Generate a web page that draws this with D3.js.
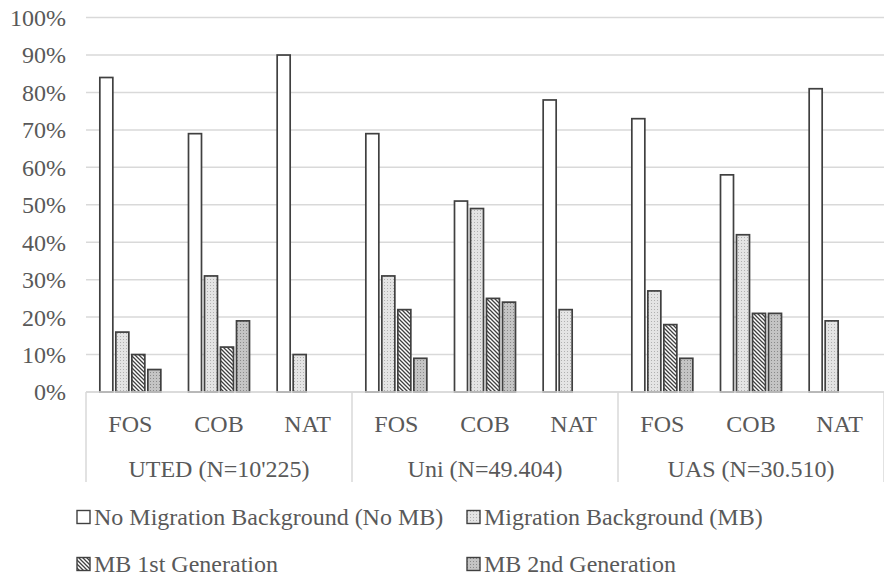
<!DOCTYPE html>
<html><head><meta charset="utf-8">
<script src="https://cdn.jsdelivr.net/npm/d3@7"></script>
<style>body{margin:0;background:#fff}</style>
</head><body><svg id="c" width="884" height="576"></svg>
<script>
const groups = ["UTED (N=10'225)", "Uni (N=49.404)", "UAS (N=30.510)"];
const categories = ["FOS", "COB", "NAT"];
const seriesNames = ["No Migration Background (No MB)", "Migration Background (MB)", "MB 1st Generation", "MB 2nd Generation"];
const noMB = [84, 69, 90, 69, 51, 78, 73, 58, 81];
const mb   = [16, 31, 10, 31, 49, 22, 27, 42, 19];
const mb1  = [10, 12, null, 22, 25, null, 18, 21, null];
const mb2  = [6, 19, null, 9, 24, null, 9, 21, null];
const yTicks = [0, 10, 20, 30, 40, 50, 60, 70, 80, 90, 100];

const series = [noMB, mb, mb1, mb2];
const fills = ["#ffffff", "url(#pLight)", "url(#pHatch)", "url(#pDark)"];
const textCol = "#595959", gridCol = "#d9d9d9", barStroke = "#404040";
const font = "'Liberation Serif','Times New Roman',serif";

const svg = d3.select("#c");
const defs = svg.append("defs");
let p = defs.append("pattern").attr("id", "pLight").attr("patternUnits", "userSpaceOnUse").attr("width", 3).attr("height", 3);
p.append("rect").attr("width", 3).attr("height", 3).attr("fill", "#e4e4e4");
p.append("rect").attr("x", 0).attr("y", 0).attr("width", 1).attr("height", 1).attr("fill", "#b0b0b0");
p = defs.append("pattern").attr("id", "pHatch").attr("patternUnits", "userSpaceOnUse").attr("width", 4).attr("height", 4);
p.append("rect").attr("width", 4).attr("height", 4).attr("fill", "#ffffff");
p.append("path").attr("d", "M-1,3 l2,2 M0,0 l4,4 M3,-1 l2,2").attr("stroke", "#404040").attr("stroke-width", 1.3);
p = defs.append("pattern").attr("id", "pDark").attr("patternUnits", "userSpaceOnUse").attr("width", 3).attr("height", 3);
p.append("rect").attr("width", 3).attr("height", 3).attr("fill", "#c4c4c4");
p.append("rect").attr("x", 0).attr("y", 0).attr("width", 1).attr("height", 1).attr("fill", "#8a8a8a");

const left = 86, right = 884, y0 = 392, y100 = 17.6;
const x = d3.scaleBand().domain(d3.range(9)).range([left, right]).padding(0);
const clusterW = 61;
const x1 = d3.scaleBand().domain(d3.range(4)).range([0, clusterW]).paddingInner(3 / 16).paddingOuter(0);
const y = d3.scaleLinear().domain([0, 100]).range([y0, y100]);

svg.append("g").selectAll("line").data(yTicks).join("line")
  .attr("x1", left).attr("x2", right)
  .attr("y1", d => y(d)).attr("y2", d => y(d))
  .attr("stroke", gridCol).attr("stroke-width", 1.5);

svg.append("g").selectAll("text").data(yTicks).join("text")
  .attr("x", 66).attr("y", d => y(d)).attr("dy", "0.35em")
  .attr("text-anchor", "end").attr("font-family", font).attr("font-size", 24)
  .attr("fill", textCol).text(d => d + "%");

const off = (x.bandwidth() - clusterW) / 2;
series.forEach((vals, s) => {
  svg.append("g").selectAll("rect")
    .data(vals.map((v, i) => ({ v, i })).filter(d => d.v != null))
    .join("rect")
    .attr("x", d => x(d.i) + off + x1(s))
    .attr("width", x1.bandwidth())
    .attr("y", d => y(d.v))
    .attr("height", d => y0 - y(d.v))
    .attr("fill", fills[s]).attr("stroke", barStroke).attr("stroke-width", 1.7);
});

svg.append("line").attr("x1", left).attr("x2", right).attr("y1", y0).attr("y2", y0)
  .attr("stroke", gridCol).attr("stroke-width", 1.5);
const seps = [0, 3, 6].map(i => x(i)).concat([right]);
svg.append("g").selectAll("line").data(seps).join("line")
  .attr("x1", d => d).attr("x2", d => d).attr("y1", y0).attr("y2", 482)
  .attr("stroke", gridCol).attr("stroke-width", 1.5);

svg.append("g").selectAll("text").data(d3.range(9)).join("text")
  .attr("x", i => x(i) + x.bandwidth() / 2).attr("y", 424).attr("dy", "0.35em")
  .attr("text-anchor", "middle").attr("font-family", font).attr("font-size", 24)
  .attr("fill", textCol).text(i => categories[i % 3]);

svg.append("g").selectAll("text").data(groups).join("text")
  .attr("x", (d, g) => (x(g * 3) + x(g * 3 + 2) + x.bandwidth()) / 2).attr("y", 469).attr("dy", "0.35em")
  .attr("text-anchor", "middle").attr("font-family", font).attr("font-size", 24)
  .attr("fill", textCol).text(d => d);

const legPos = [[77, 517], [467, 517], [77, 564], [467, 564]];
const leg = svg.append("g").selectAll("g").data(seriesNames).join("g")
  .attr("transform", (d, i) => `translate(${legPos[i][0]},${legPos[i][1]})`);
leg.append("rect").attr("x", 0).attr("y", -6.5).attr("width", 13).attr("height", 13)
  .attr("fill", (d, i) => fills[i]).attr("stroke", barStroke).attr("stroke-width", 1.4);
leg.append("text").attr("x", 17).attr("y", 0).attr("dy", "0.35em")
  .attr("font-family", font).attr("font-size", 24).attr("fill", textCol).text(d => d);
</script></body></html>
